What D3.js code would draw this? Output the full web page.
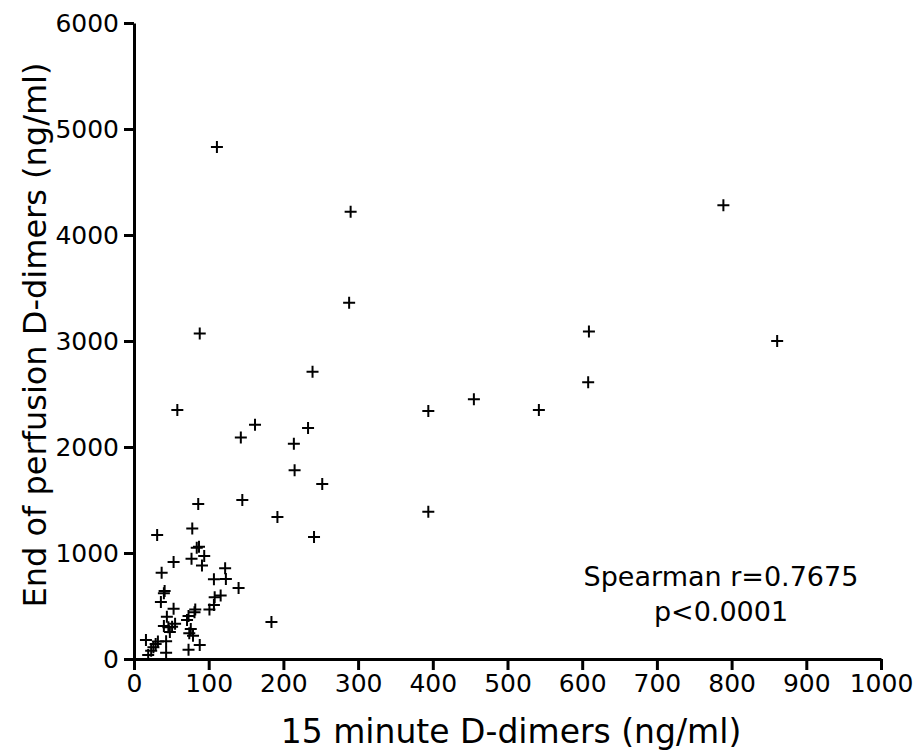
<!DOCTYPE html>
<html lang="en">
<head>
<meta charset="UTF-8">
<title>D-dimers scatter</title>
<style>
  body { margin: 0; background: #fff; }
  text { font-family: "DejaVu Sans", Verdana, sans-serif; fill: #000; }
</style>
</head>
<body>
<div id="chart"></div>
<script src="https://d3js.org/d3.v7.min.js"></script>
<script>
// 15 minute D-dimers (ng/ml)
const xValues = [111, 290, 288, 789, 609, 861, 88, 239, 58, 143, 162, 214, 233, 215, 252, 145, 192, 241,
  394, 455, 542, 608, 394, 184, 140,
  86, 31, 78, 87, 84, 94, 77, 91, 53, 37, 122, 123, 107, 41, 40, 36, 116, 108, 107, 101, 82, 53,
  73, 81, 44, 55, 51, 46, 40, 48, 76, 74, 79, 88, 73, 43, 43, 16, 32, 29, 26, 23, 19, 71];
// End of perfusion D-dimers (ng/ml)
const yValues = [4830, 4220, 3360, 4280, 3090, 3000, 3070, 2710, 2350, 2090, 2210, 2030, 2180, 1780, 1650, 1500, 1340, 1150,
  2340, 2450, 2350, 2610, 1390, 350, 670,
  1462, 1170, 1230, 1060, 1050, 972, 946, 883, 915, 814, 856, 755, 752, 642, 620, 538, 600, 582, 509, 468, 468, 475,
  406, 440, 399, 333, 305, 299, 311, 255, 283, 242, 220, 132, 88, 59, 167, 179, 164, 141, 110, 78, 38, 368];
const xTicks = [0, 100, 200, 300, 400, 500, 600, 700, 800, 900, 1000];
const yTicks = [0, 1000, 2000, 3000, 4000, 5000, 6000];
const statLines = ["Spearman r=0.7675", "p<0.0001"];

const width = 917, height = 751;
const svg = d3.select("#chart").append("svg")
  .attr("width", width)
  .attr("height", height);

const x = d3.scaleLinear().domain([0, 1000]).range([134, 881]);
const y = d3.scaleLinear().domain([0, 6000]).range([659, 23]);

const xAxis = svg.append("g")
  .attr("transform", `translate(0,${y(0)})`)
  .call(d3.axisBottom(x).tickValues(xTicks).tickFormat(d3.format("d"))
    .tickSize(11).tickSizeOuter(0).tickPadding(4));
const yAxis = svg.append("g")
  .attr("transform", `translate(${x(0)},0)`)
  .call(d3.axisLeft(y).tickValues(yTicks).tickFormat(d3.format("d"))
    .tickSize(10).tickSizeOuter(0).tickPadding(5));

[xAxis, yAxis].forEach(g => {
  g.select(".domain").attr("stroke", "#000").attr("stroke-width", 3);
  g.selectAll(".tick line").attr("stroke", "#000").attr("stroke-width", 3);
  g.selectAll(".tick text").style("font-size", "25px").attr("fill", "#000");
});

const points = d3.range(xValues.length).map(i => ({ x: xValues[i], y: yValues[i] }));
const s = 6;
svg.append("g").selectAll("path")
  .data(points)
  .enter()
  .append("path")
  .attr("d", d => {
    const cx = x(d.x), cy = y(d.y);
    return `M${cx - s},${cy}H${cx + s}M${cx},${cy - s}V${cy + s}`;
  })
  .attr("stroke", "#000")
  .attr("stroke-width", 2)
  .attr("fill", "none");

svg.append("text")
  .attr("x", 511)
  .attr("y", 743)
  .attr("text-anchor", "middle")
  .style("font-size", "33px")
  .text("15 minute D-dimers (ng/ml)");

svg.append("text")
  .attr("transform", "translate(46,335) rotate(-90)")
  .attr("text-anchor", "middle")
  .style("font-size", "32px")
  .text("End of perfusion D-dimers (ng/ml)");

svg.append("g").selectAll("text")
  .data(statLines)
  .enter()
  .append("text")
  .attr("x", 721)
  .attr("y", (d, i) => 586 + i * 35)
  .attr("text-anchor", "middle")
  .style("font-size", "27px")
  .text(d => d);
</script>
</body>
</html>
